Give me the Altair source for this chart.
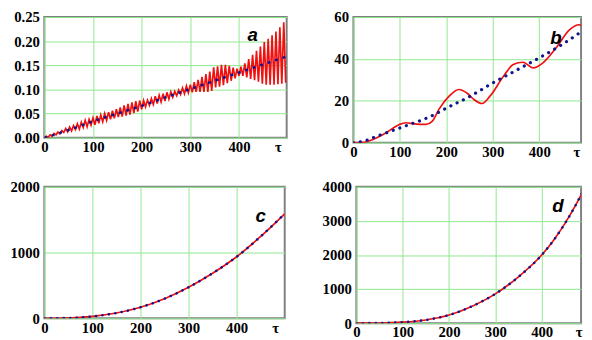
import altair as alt
import pandas as pd

# ---------------- data ----------------
# panel a: oscillating red curve (extrema every 4 tau) and dotted trend
a_tau = list(range(0, 500, 4))
a_red = [
    .000, .003, .001, .006, .003, .009, .006, .012, .008, .015,
    .011, .019, .012, .022, .014, .025, .017, .029, .018, .032,
    .021, .036, .023, .038, .026, .041, .027, .045, .030, .047,
    .033, .050, .036, .053, .038, .056, .040, .059, .043, .063,
    .044, .067, .046, .070, .048, .073, .051, .076, .054, .077,
    .059, .077, .064, .078, .067, .081, .069, .086, .071, .088,
    .074, .091, .076, .094, .080, .095, .084, .096, .087, .099,
    .090, .103, .091, .107, .093, .110, .094, .115, .095, .120,
    .095, .126, .095, .132, .095, .137, .097, .146, .104, .148,
    .106, .151, .109, .151, .113, .149, .118, .145, .123, .143,
    .128, .147, .128, .154, .125, .163, .122, .172, .119, .180,
    .116, .189, .112, .198, .110, .205, .110, .212, .110, .220,
    .111, .229, .112, .239, .114,
]
a_blue_tau = [0, 50, 100, 150, 200, 250, 300, 350, 400, 450, 500]
a_blue = [0.0, .016, .034, .050, .066, .084, .101, .118, .135, .152, .169]

# panel b
b_red_tau = [0, 10, 21, 43, 71, 99, 113, 131, 156, 170, 184, 206, 227, 245, 260,
             277, 294, 323, 344, 365, 387, 408, 436, 465, 486, 497]
b_red = [0, 0, 0.1, 1.6, 4.8, 8.7, 9.5, 9.0, 8.7, 10.3, 15.9, 22.2, 25.4, 23.6, 20.5,
         18.7, 22.2, 31.7, 37.3, 38.4, 35.7, 38.1, 45.2, 53.9, 56.3, 54.7]
b_blue_tau = [0, 25, 50, 75, 100, 125, 150, 175, 200, 250, 300, 350, 400, 450, 497]
b_blue = [0, 0.9, 3, 5, 7, 9, 11, 13.5, 16.5, 22, 28.5, 34.5, 40.5, 47, 54]

# panel c
c_tau = [0, 50, 100, 150, 200, 250, 300, 350, 400, 450, 500]
c_val = [0, 4, 28, 80, 168, 298, 472, 685, 936, 1245, 1590]

# panel d
d_tau = [0, 50, 100, 150, 200, 250, 300, 350, 400, 425, 450, 470, 490]
d_val = [0, 5, 30, 95, 240, 500, 860, 1360, 2000, 2420, 2920, 3380, 3890]

# panel letters (tau, value)
labels = {"a": (428, 0.213), "b": (436, 50), "c": (450, 1560), "d": (435, 3440)}

x_ticks = [0, 100, 200, 300, 400, 480]

RED = "#f01010"
BLUE = "#14148c"
GRID = "#8fe88f"
FONT = "Liberation Serif"


def panel(red_t, red_v, blue_t, blue_v, xmax, ymax, yvals, yfmt, w, h, letter,
          red_interp="linear", dash=(2, 5), cap="butt", bw=2.5):
    xs = alt.Scale(domain=[0, xmax], nice=False, zero=False)
    ys = alt.Scale(domain=[0, ymax], nice=False)
    xax = alt.Axis(values=x_ticks, title=None, ticks=False, domain=False,
                   labelExpr="datum.value == 480 ? 'τ' : datum.label",
                   gridColor=GRID, gridWidth=1,
                   gridOpacity=alt.condition("datum.value == 480", alt.value(0), alt.value(1)),
                   labelFont=FONT, labelFontWeight="bold", labelFontSize=15,
                   labelColor="black", labelPadding=2, labelFlush=False,
                   labelOverlap=False)
    yax = alt.Axis(values=yvals, format=yfmt, title=None, ticks=False, domain=False,
                   gridColor=GRID, gridWidth=1,
                   labelFont=FONT, labelFontWeight="bold", labelFontSize=15,
                   labelColor="black", labelPadding=5, labelOverlap=False)
    X = alt.X("t:Q", scale=xs, axis=xax)
    Y = alt.Y("v:Q", scale=ys, axis=yax)
    rdf = pd.DataFrame({"t": red_t, "v": red_v})
    bdf = pd.DataFrame({"t": blue_t, "v": blue_v})
    red = alt.Chart(rdf).mark_line(color=RED, strokeWidth=1.7, clip=True,
                                   interpolate=red_interp).encode(x=X, y=Y)
    blue = alt.Chart(bdf).mark_line(color=BLUE, strokeWidth=bw, clip=True,
                                    strokeCap=cap,
                                    strokeDash=list(dash), interpolate="monotone").encode(x=X, y=Y)
    lt, lv = labels[letter]
    ldf = pd.DataFrame({"t": [lt], "v": [lv], "s": [letter]})
    txt = alt.Chart(ldf).mark_text(font="Liberation Sans", fontStyle="italic",
                                   fontWeight="bold", fontSize=19, color="black").encode(
        x=X, y=Y, text="s:N",
    )
    return alt.layer(red, blue, txt).properties(width=w, height=h)


pa = panel(a_tau, a_red, a_blue_tau, a_blue, 498, 0.25,
           [0, 0.05, 0.10, 0.15, 0.20, 0.25], ".2f", 247, 123, "a", dash=(3, 5))
pb = panel(b_red_tau, b_red, b_blue_tau, b_blue, 490, 60,
           [0, 20, 40, 60], "d", 232, 128, "b", red_interp="monotone",
           dash=(0.1, 7), cap="round", bw=3.2)
pc = panel(c_tau, c_val, c_tau, c_val, 500, 2000,
           [0, 1000, 2000], "d", 245, 134, "c", red_interp="monotone",
           dash=(0.1, 6.5), cap="round", bw=2.6)
pd_ = panel(d_tau, d_val, d_tau, d_val, 485, 4000,
            [0, 1000, 2000, 3000, 4000], "d", 229, 139, "d", red_interp="monotone",
            dash=(0.1, 6.5), cap="round", bw=2.6)

row1 = alt.hconcat(pa, pb, spacing=68, bounds="flush")
row2 = alt.hconcat(pc, pd_, spacing=73, bounds="flush")
chart = alt.vconcat(row1, row2, spacing=19).properties(
    padding={"left": 1, "top": -2, "right": 0, "bottom": 0}
).configure_view(stroke="#808080", strokeWidth=2).configure_axis(labelOverlap=False)

chart.save("out.html", embed_options={"renderer": "svg", "actions": False})
